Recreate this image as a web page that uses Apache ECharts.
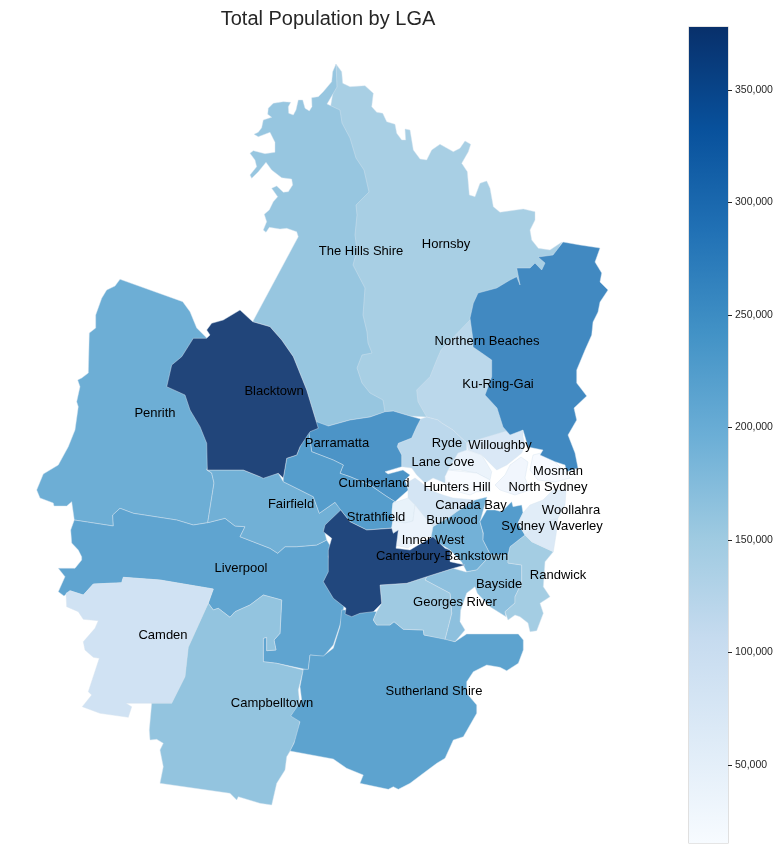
<!DOCTYPE html>
<html>
<head>
<meta charset="utf-8">
<title>Total Population by LGA</title>
<script src="https://cdn.jsdelivr.net/npm/echarts@6/dist/echarts.min.js"></script>
<style>
html, body { margin: 0; padding: 0; background: #fff; }
#chart { width: 781px; height: 850px; }
</style>
</head>
<body>
<div id="chart"></div>
<script>
var lgaNames = ['Hornsby','The Hills Shire','Ku-Ring-Gai','Ryde','Willoughby','Lane Cove','Hunters Hill','North Sydney','Mosman','Northern Beaches','Penrith','Liverpool','Camden','Campbelltown','Sutherland Shire','Fairfield','Parramatta','Cumberland','Canada Bay','Strathfield','Burwood','Inner West','Bayside','Georges River','Randwick','Sydney','Woollahra','Waverley','Canterbury-Bankstown','Blacktown'];
var lgaPopulation = [151000,168000,127000,125000,76000,40000,16000,30000,18000,272000,212000,230000,95000,172000,232000,208000,255000,242000,88000,46000,40000,205000,178000,160000,155000,243000,60000,72000,375000,378000];
var colorbarTicks = [50000,100000,150000,200000,250000,300000,350000];
var colorbarMin = 15300;
var colorbarMax = 378000;

// Blues colormap, raw for the colorbar, with the map's 0.9 alpha over white for the areas
var blues = ['#f7fbff','#deebf7','#c6dbef','#9ecae1','#6baed6','#4292c6','#2171b5','#08519c','#08306b'];
var bluesFaded = ['#f8fbff','#e1edf8','#cbdff1','#a8cfe4','#7ab6da','#559dcc','#377fbc','#2162a6','#21457a'];

// area outlines, in page pixels
var outlines = {
  'Hornsby': [[336,64],[341.7,71.7],[342.7,83.3],[350,86.7],[365,85.7],[373.3,93.3],[371.7,106.7],[376.7,112.3],[382.7,113.3],[386.7,121.7],[395,124.3],[396.7,133.3],[401.7,140],[405.7,140],[405,129],[410,130],[413.3,150],[420,159],[426.7,160],[431.7,150],[440,144.3],[453.3,151.7],[460,148.3],[465,141],[470.7,144.3],[468.3,151.7],[461.7,163.3],[467.3,171.7],[469.3,195],[475,196.7],[480,183.3],[486.7,181],[490,188.3],[493.3,206.7],[500,212.3],[523.3,209],[535,211.7],[535,220],[530,230],[531.7,240],[538.3,248.3],[550,250],[562,242],[550,265],[520,290],[480,320],[440,380],[427,417],[410,416],[393,411],[385,412],[350,400],[345,200],[330,110],[336,75]],
  'The Hills Shire': [[336,64],[332.7,71.7],[331.7,81.7],[323.3,91.7],[318.3,96.7],[311.7,97.7],[312,106.7],[309.3,111],[305,108.3],[302.7,100],[298.3,100],[296,110],[293.3,115],[288.7,113.3],[288.3,106.7],[290.7,102.3],[283.3,101.7],[273.3,103.3],[268.3,108.3],[267.7,114.3],[271.7,117.3],[263.3,120],[261.7,127.7],[258.3,132.3],[254,134.3],[258.3,136.7],[270,132.3],[275,142.3],[275,152.3],[265,153.7],[253.3,150.7],[250,153.3],[255,160],[256.7,166.7],[250,175],[251.7,178.3],[258.3,171.7],[266,162.3],[271.7,170],[281.7,177.7],[291.7,179],[292.7,185],[288.3,191.7],[283.3,192.3],[276.7,186],[271.7,188.3],[277.7,196.7],[273.3,201.7],[269.3,210],[264.3,214.3],[266.7,221.7],[263.3,230],[266,232.3],[269.3,227.3],[280,229],[286.7,228.3],[296.7,231.7],[298.3,236.7],[252.7,321.7],[270,326.7],[281.7,340],[293.3,356.7],[306.7,390],[318.3,428.3],[328.3,426],[350,420],[370,417],[385,412],[383,400],[370,393],[362,383],[357,368],[362,355],[372,353],[368,343],[367,332],[363,315],[365,288],[353,265],[357,250],[355,235],[357,215],[356,205],[369,192],[364,170],[356,158],[350,138],[342,123],[340,110],[327,104],[337,87]],
  'Ku-Ring-Gai': [[470,320],[441,350],[436.7,360],[430,376.7],[416.7,390],[418,401.7],[426.7,417],[438,420],[441.7,423],[453,430],[466.7,443],[510,432],[520,400],[490,340]],
  'Ryde': [[420.7,419],[426.7,417],[438,420],[441.7,423],[453,430],[466.7,443],[466.7,450],[452.7,465],[445,476.7],[445,483],[433,478],[425,483],[416.7,475],[411.7,468],[401.7,466.7],[401.7,455],[397.3,446.7],[398.3,443.3],[411.7,438],[416.7,426.7]],
  'Willoughby': [[466.7,443],[510,430],[523,431],[523,436.7],[525,445],[521.7,453],[513,460],[506.7,465],[496.7,470],[481.7,455],[468,450]],
  'Lane Cove': [[466.7,450],[481.7,455],[491.7,471.7],[490,480],[476.7,473],[460,470],[448,470],[458,453]],
  'Hunters Hill': [[448,470],[476.7,473],[490,480],[490,491.7],[476.7,491.7],[470,495],[458,491.7],[446.7,486.7],[445,476.7]],
  'North Sydney': [[510,465],[521,457],[528,462],[525,478],[530,490],[515,495],[500,490],[495,485],[505,475]],
  'Mosman': [[533,455],[545,452],[555,462],[565,472],[570,478],[555,482],[538,480],[530,470]],
  'Northern Beaches': [[470,318],[473.3,303.3],[478,293],[496.7,288],[510,280],[516.7,276.7],[520,285],[516.7,268],[530,268],[535,263],[541.7,270],[545,263],[538,257],[553,255],[563,242],[580,245],[600,248],[595,262],[601.7,273],[600,282],[608,290],[600,302],[598,312],[593,322],[591.7,335],[585,350],[576.7,370],[576.7,383],[586.7,396],[574,408],[576.7,420],[568,435],[575,453],[578,468],[566.7,471.7],[565,465],[555,461.7],[540,455],[543,450],[528,447],[523,430],[510,435],[503,427],[497,408],[485,395],[491.7,376.7],[491.7,360],[481.7,353],[473,347],[473,340]],
  'Penrith': [[120,279.3],[115,286],[106.7,290],[101.7,298.3],[95.7,315],[95.7,328],[89.3,333],[88.3,373],[81.7,378],[77.7,380],[80,386.7],[76.7,401.7],[78.3,406.7],[75,430],[68.3,446.7],[58.3,465],[43.3,474],[36.7,490],[40,498],[53.3,503],[54,506],[66.7,506],[71.7,501.7],[74.3,520],[113.3,526],[112.7,515],[120,508.3],[133.3,513.3],[176.7,520],[193.3,525],[207.7,522.7],[214,483],[211.7,473],[206.7,470],[230,400],[206.7,338],[196.7,328],[190,311.7],[182.7,301.7]],
  'Liverpool': [[74.3,520],[113.3,526],[112.7,515],[120,508.3],[133.3,513.3],[176.7,520],[193.3,525],[207.7,522.7],[225,518.3],[235,526],[245,526.7],[240,536.7],[270,548.3],[277.7,553.3],[285,546.7],[296.7,546.7],[316.7,545],[326.7,540],[331.7,548.3],[328.3,556.7],[331.7,566.7],[345,600],[343.3,610],[340,625],[333.3,645],[323.3,656.7],[310,655],[308.3,670],[276.7,663.3],[263.3,661.7],[263.3,638.3],[266.7,637.3],[266.7,650.7],[276,650],[274,640],[280,633.3],[281.7,600],[263.3,595],[250,605],[235,611.7],[230,617.3],[218.3,608.3],[213.3,610],[208.3,603.3],[213.3,589],[160,580],[123.3,577.3],[121.7,582.7],[93.3,584],[83.3,595],[70,590.7],[64,596],[58.3,591.7],[65,576.7],[58.3,568.3],[75,568.3],[81.7,560],[81.7,556.7],[78.3,550],[71.7,543],[70.7,530]],
  'Camden': [[213.3,589],[160,580],[123.3,577.3],[121.7,582.7],[93.3,584],[83.3,595],[70,590.7],[66,593.3],[66.7,606.7],[78.3,611.7],[83.3,619.3],[98.3,620.7],[95,628.3],[83.3,641.7],[85,650],[93.3,657.3],[99.3,658.3],[88.3,691.7],[91.7,695],[82.3,706.7],[100,713.3],[128.3,717.3],[131.7,706.7],[126,703.3],[151.7,703.3],[171.7,703.3],[185,676.7],[188.3,647.3],[206.7,606.7]],
  'Campbelltown': [[208.3,603.3],[213.3,610],[218.3,608.3],[230,617.3],[235,611.7],[250,605],[263.3,595],[281.7,600],[280,633.3],[274,640],[276,650],[266.7,650.7],[266.7,637.3],[263.3,638.3],[263.3,661.7],[276.7,663.3],[303.3,670],[298.3,690],[300,706.7],[291.7,715],[300,720],[298.3,733.3],[290.7,750],[286.7,756.7],[285,770],[276.7,783.3],[271.7,805],[260,803.3],[238.3,796.7],[236.7,800],[230,793.3],[160,783.3],[163.3,766.7],[160,750],[163.3,743.3],[156.7,739.3],[150,740],[149.3,730],[151.7,703.3],[171.7,703.3],[185,676.7],[188.3,647.3],[206.7,606.7]],
  'Sutherland Shire': [[310,655],[323.3,656],[333.3,648.3],[340,626.7],[341.7,610],[356.7,610],[376.7,611.7],[373.3,620],[376.7,625],[390,625],[394,621.7],[403.3,629.3],[423.3,630],[424,635],[443.3,638.3],[455,641.7],[466.7,634],[518.3,634],[523.3,640],[523.3,650],[518.3,663.3],[506.7,670.7],[500,667.3],[486.7,665],[473.3,671.7],[466.7,681.7],[466.7,693.3],[476.7,705],[476.7,713.3],[463.3,736.7],[453.3,740],[445,758.3],[436.7,763.3],[423.3,773.3],[410,783.3],[398.3,789.3],[393.3,786.7],[388.3,789.3],[360,783.3],[363.3,775],[346.7,768.3],[333.3,759],[290,751],[294,743.3],[300,721.7],[290.7,716],[301.7,700],[300,686.7],[303.3,669.3],[308.3,669.3]],
  'Fairfield': [[207.3,470],[243.3,470],[260,476.7],[278.3,473.3],[283.3,481.7],[300,490],[313.3,496.7],[319.3,513.3],[335,502.3],[341.7,510],[325,533.3],[326.7,540],[316.7,545],[296.7,546.7],[285,546.7],[277.7,553.3],[270,548.3],[240,536.7],[245,526.7],[235,526],[225,518.3],[207.7,522.7],[214,483],[211.7,473]],
  'Parramatta': [[316.7,421.7],[328.3,426],[350,420],[370,417],[385,411.7],[393.3,411],[410,416],[420.7,419],[416.7,426.7],[411.7,438],[398.3,443.3],[397.3,446.7],[401.7,455],[401.7,466.7],[385,471.7],[388,474],[403,470],[410,475],[405,480],[408.3,490],[395,501.7],[386,496],[370,485],[350,476.7],[340,473.3],[343.3,465],[333.3,460],[311.7,451.7],[310,440],[308.3,430]],
  'Cumberland': [[308.3,430],[310,440],[311.7,451.7],[333.3,460],[343.3,465],[340,473.3],[350,476.7],[370,485],[386,496],[395,501.7],[393,503],[392,512],[393,520],[391.7,528],[366.7,530],[350,521.7],[340.7,510],[335,502.3],[319.3,513.3],[313.3,496.7],[300,490],[283.3,481.7],[283.3,478],[286.7,458.3],[296.7,455],[300,446.7]],
  'Canada Bay': [[408,488],[406.7,483],[415,478],[421.7,483],[430,490],[443,495],[453,498],[475,500],[456.7,511.7],[450,516.7],[433,526.7],[423,515],[415,505],[408,498]],
  'Strathfield': [[393,503],[408,498],[415,505],[413,521],[405,523],[393,521],[392,512]],
  'Burwood': [[415,505],[423,515],[433,526.7],[431.7,536],[421.7,537],[408,548],[395,545],[398,530],[393,533],[391.7,528],[393,521],[405,523],[413,521]],
  'Inner West': [[433,526.7],[450,516.7],[456.7,511.7],[475,500],[487,497],[480,521.7],[483,533],[483,540],[490.7,555],[476.7,570],[466.7,571.7],[461.7,562],[450,550],[431,538]],
  'Bayside': [[426.7,576.7],[453,568.3],[466,572],[476.7,570],[490.7,555],[508,555],[508,563],[521.7,565],[521.7,583],[515,596.7],[515,603],[505,611.7],[506,616.7],[490,606.7],[477.3,593.3],[475,586.7],[466.7,593],[460.7,610],[460,621.7],[465,630],[455,641.7],[445,639.3],[451.7,613.3],[450,593.3],[425,580]],
  'Georges River': [[380,585],[406.7,583.3],[426.7,576.7],[425,580],[450,593.3],[451.7,613.3],[445,639.3],[424,635],[423.3,630],[403.3,629.3],[394,621.7],[390,625],[376.7,625],[373.3,620],[376.7,611.7],[381.7,603.3]],
  'Randwick': [[510,546.7],[525,535],[531.7,541.7],[553.3,551.7],[545,561.7],[543.3,586.7],[550,596.7],[540,603.3],[543.3,613.3],[536.7,630.7],[530,631.7],[528,623],[520,616.7],[515,615],[508,620],[505,611.7],[515,603],[515,596.7],[521.7,583],[521.7,565],[508,563],[508,555]],
  'Sydney': [[480,521.7],[483.3,533],[483,540],[490.7,555],[508,555],[510,546.7],[525,535],[518,523],[523,513],[521.7,505],[513,506.7],[511.7,501.7],[501.7,511.7],[495,510],[486.7,510]],
  'Woollahra': [[523,513],[530,505],[543,500],[553,490],[566,490],[565,505],[558,518],[540,523],[525,535],[518,523]],
  'Waverley': [[525,535],[540,523],[558,518],[556,535],[553.3,551.7],[531.7,541.7]],
  'Canterbury-Bankstown': [[340.7,510],[350,521.7],[366.7,530],[391.7,528.3],[393.3,533.3],[398.3,530],[396,548.3],[410,550],[418.3,545],[433,536.7],[445,548.3],[450,550],[450,561.7],[465,565],[453.3,568.3],[426.7,576.7],[406.7,583.3],[380,585],[381.7,603.3],[373.3,611.7],[360,613.3],[351.7,616.7],[345,614],[346,608.3],[333.3,598.3],[323.3,581.7],[328.3,571.7],[328.3,550],[331.7,538.3],[323.3,531.7],[325,525]],
  'Blacktown': [[240,310],[252.7,321.7],[270,326.7],[281.7,340],[293.3,356.7],[306.7,390],[318.3,428.3],[310,431.7],[300,446.7],[296.7,455],[286.7,458.3],[283.3,478],[278.3,473.3],[263.3,478.3],[260,476.7],[243.3,470],[207.3,470],[206.7,443.3],[200,426.7],[190,410],[185,395],[166.7,386.7],[171.7,365],[181.7,356.7],[193.3,338.3],[206.7,338.3],[210,335],[206.7,330],[211.7,323.3],[223.3,320]]
};

// where each name sits on the picture
var labelSpots = {
  'Hornsby':[446,244],'The Hills Shire':[361,251],'Ku-Ring-Gai':[498,384],'Ryde':[447,443],'Willoughby':[500,445],'Lane Cove':[443,462],'Hunters Hill':[457,487],'North Sydney':[548,487],'Mosman':[558,471],'Northern Beaches':[487,341],'Penrith':[155,413],'Liverpool':[241,568],'Camden':[163,635],'Campbelltown':[272,703],'Sutherland Shire':[434,691],'Fairfield':[291,504],'Parramatta':[337,443],'Cumberland':[374,483],'Canada Bay':[471,505],'Strathfield':[376,517],'Burwood':[452,520],'Inner West':[433,540],'Bayside':[499,584],'Georges River':[455,602],'Randwick':[558,575],'Sydney':[523,526],'Woollahra':[571,510],'Waverley':[576,526],'Canterbury-Bankstown':[442,556],'Blacktown':[274,391]
};

var features = lgaNames.map(function (name) {
  var ring = outlines[name].concat([outlines[name][0]]);
  return {
    type: 'Feature',
    properties: { name: name, cp: labelSpots[name] },
    geometry: { type: 'Polygon', coordinates: [ring] }
  };
});
echarts.registerMap('lga', { type: 'FeatureCollection', features: features });

var myChart = echarts.init(document.getElementById('chart'));

var fontName = '"Liberation Sans", Arial, sans-serif';
var mapData = lgaNames.map(function (name, i) {
  return { name: name, value: lgaPopulation[i] };
});

var option = {
  animation: false,
  backgroundColor: '#fff',
  title: {
    text: 'Total Population by LGA',
    left: 323,
    top: 4,
    textAlign: 'center',
    textStyle: { fontFamily: fontName, fontSize: 20, fontWeight: 'normal', color: '#262626' }
  },
  visualMap: {
    show: false,
    seriesIndex: 0,
    min: colorbarMin,
    max: colorbarMax,
    inRange: { color: bluesFaded }
  },
  grid: {
    left: 689,
    top: 27,
    width: 39,
    height: 816,
    show: true,
    borderColor: '#ccc',
    borderWidth: 1.2,
    backgroundColor: 'transparent'
  },
  xAxis: { type: 'category', show: false, data: ['colorbar'] },
  yAxis: {
    type: 'value',
    position: 'right',
    min: colorbarMin,
    max: colorbarMax,
    splitLine: { show: false },
    axisLine: { show: false },
    axisTick: { show: true, length: 4, customValues: colorbarTicks, lineStyle: { color: '#262626' } },
    axisLabel: { customValues: colorbarTicks, margin: 7, color: '#262626', fontFamily: fontName, fontSize: 10.5 }
  },
  series: [
    {
      name: 'Total Population',
      type: 'map',
      map: 'lga',
      projection: {
        project: function (p) { return p; },
        unproject: function (p) { return p; }
      },
      boundingCoords: [[0, 0], [781, 850]],
      left: 0,
      top: 0,
      width: 781,
      height: 850,
      roam: false,
      silent: true,
      selectedMode: false,
      label: { show: true, color: '#000', fontFamily: fontName, fontSize: 13 },
      itemStyle: { borderColor: 'rgba(215,228,240,0.75)', borderWidth: 0.6 },
      data: mapData
    },
    {
      type: 'bar',
      silent: true,
      barWidth: '100%',
      data: [colorbarMax],
      itemStyle: {
        color: new echarts.graphic.LinearGradient(0, 0, 0, 1, blues.slice().reverse().map(function (c, i) {
          return { offset: i / 8, color: c };
        }))
      }
    }
  ]
};

myChart.setOption(option);
</script>
</body>
</html>
